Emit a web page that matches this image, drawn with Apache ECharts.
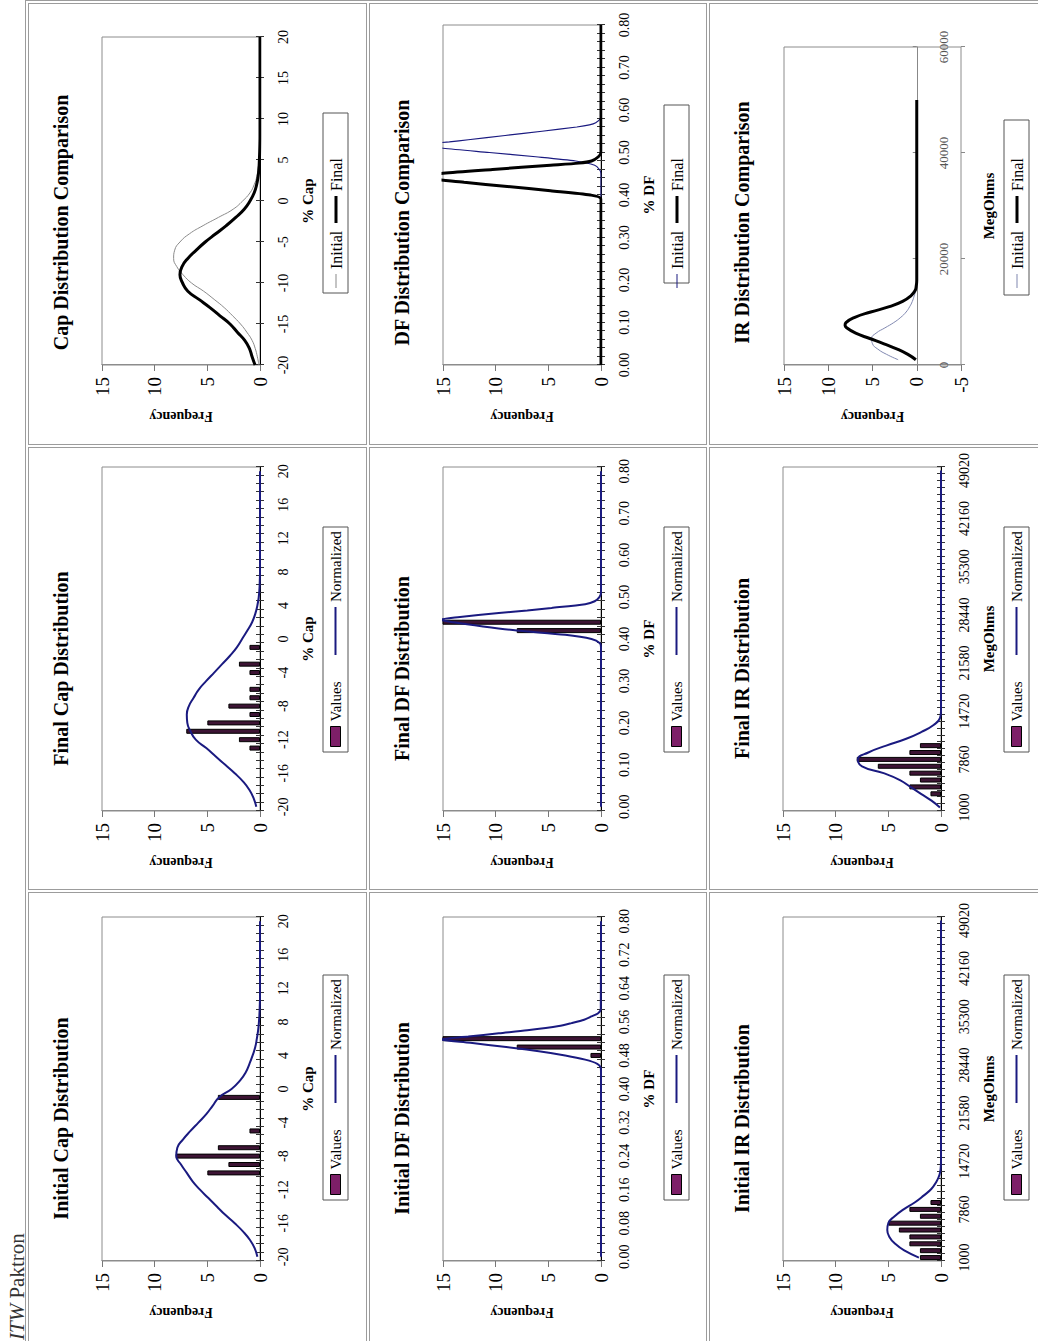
<!DOCTYPE html>
<html>
<head>
<meta charset="utf-8">
<script src="https://cdn.jsdelivr.net/npm/echarts@6/dist/echarts.min.js"></script>
<style>
html, body { margin: 0; padding: 0; background: #fff; overflow: hidden; }
/* the report page is landscape; it is drawn upright and turned a quarter left */
#page { position: absolute; left: 0; top: 1341px; width: 1341px; height: 1038px;
        transform-origin: 0 0; transform: rotate(-90deg); background: #fff; overflow: hidden; }
#hdr { position: absolute; left: 1px; top: 7px; font: 21px/21px 'Liberation Serif', serif; color: #333; white-space: nowrap; }
#tbl { position: absolute; left: -20px; top: 25px; width: 1361px; height: 1100px; box-sizing: border-box; border: 1px solid #9c9c9c; }
.cell { position: absolute; box-sizing: border-box; border: 1px solid #9c9c9c; }
.chart { position: absolute; width: 445px; height: 340px; }
</style>
</head>
<body>
<div id="page">
  <div id="hdr"><i>ITW</i> Paktron</div>
  <div id="tbl"></div>
  <div class="cell" style="left:-20px;top:28px;width:469px;height:339px"></div>
  <div class="cell" style="left:451px;top:28px;width:443px;height:339px"></div>
  <div class="cell" style="left:896px;top:28px;width:442px;height:339px"></div>
  <div class="cell" style="left:-20px;top:369px;width:469px;height:338px"></div>
  <div class="cell" style="left:451px;top:369px;width:443px;height:338px"></div>
  <div class="cell" style="left:896px;top:369px;width:442px;height:338px"></div>
  <div class="cell" style="left:-20px;top:709px;width:469px;height:400px"></div>
  <div class="cell" style="left:451px;top:709px;width:443px;height:400px"></div>
  <div class="cell" style="left:896px;top:709px;width:442px;height:400px"></div>

  <div class="chart" id="capInit" style="left:0;top:27px"></div>
  <div class="chart" id="capFinal" style="left:450px;top:27px"></div>
  <div class="chart" id="capCmp" style="left:896px;top:27px"></div>
  <div class="chart" id="dfInit" style="left:0;top:368px"></div>
  <div class="chart" id="dfFinal" style="left:450px;top:368px"></div>
  <div class="chart" id="dfCmp" style="left:896px;top:368px"></div>
  <div class="chart" id="irInit" style="left:0;top:708px"></div>
  <div class="chart" id="irFinal" style="left:450px;top:708px"></div>
  <div class="chart" id="irCmp" style="left:896px;top:708px"></div>
</div>
<script>
// ---- % Cap ----
const capCats = [-20,-19,-18,-17,-16,-15,-14,-13,-12,-11,-10,-9,-8,-7,-6,-5,-4,-3,-2,-1,0,1,2,3,4,5,6,7,8,9,10,11,12,13,14,15,16,17,18,19,20];
const capInitialBars = [0,0,0,0,0,0,0,0,0,0, 5,3,8,4,0,1,0,0,0,4, 0,0,0,0,0,0,0,0,0,0, 0,0,0,0,0,0,0,0,0,0, 0];
const capFinalBars   = [0,0,0,0,0,0,0,1,2,7, 5,1,3,1,1,0,1,2,0,1, 0,0,0,0,0,0,0,0,0,0, 0,0,0,0,0,0,0,0,0,0, 0];
const capInitialCurve = [0.25,0.5,0.95,1.6,2.4,3.3,4.1,4.9,5.7,6.4, 6.95,7.5,7.95,7.85,7.3,6.6,5.85,5.1,4.5,3.9, 2.7,1.9,1.35,1.0,0.7,0.45,0.3,0.18,0.1,0.05, 0.02,0,0,0,0,0,0,0,0,0, 0];
const capFinalCurve   = [0.35,0.6,1.0,1.6,2.4,3.3,4.2,5.1,6.1,6.6, 6.9,6.95,6.75,6.3,5.8,5.1,4.35,3.6,2.85,2.2, 1.7,1.2,0.75,0.45,0.25,0.12,0.05,0.02,0,0, 0,0,0,0,0,0,0,0,0,0, 0];
const capCmpInitial = [0.1,0.25,0.45,0.75,1.25,1.85,2.6,3.4,4.35,5.35, 6.5,7.3,7.9,8.2,8.1,7.6,6.7,5.4,3.95,2.55, 1.65,0.95,0.55,0.3,0.18,0.08,0.03,0.01,0,0, 0,0,0,0,0,0,0,0,0,0, 0];
const capCmpFinal   = [0.47,0.75,1.0,1.45,2.15,2.85,3.8,4.75,5.8,6.85, 7.35,7.6,7.4,6.85,6.05,5.2,4.2,3.2,2.3,1.5, 0.95,0.55,0.32,0.18,0.1,0.06,0.03,0.01,0,0, 0,0,0,0,0,0,0,0,0,0, 0];

// ---- % DF ----
const dfCats = [0.00,0.02,0.04,0.06,0.08,0.10,0.12,0.14,0.16,0.18,0.20,0.22,0.24,0.26,0.28,0.30,0.32,0.34,0.36,0.38,0.40,0.42,0.44,0.46,0.48,0.50,0.52,0.54,0.56,0.58,0.60,0.62,0.64,0.66,0.68,0.70,0.72,0.74,0.76,0.78,0.80];
const dfInitialBars = [0,0,0,0,0,0,0,0,0,0, 0,0,0,0,0,0,0,0,0,0, 0,0,0,0,1,8,16,0,0,0, 0,0,0,0,0,0,0,0,0,0, 0];
const dfFinalBars   = [0,0,0,0,0,0,0,0,0,0, 0,0,0,0,0,0,0,0,0,0, 0,8,16,0,0,0,0,0,0,0, 0,0,0,0,0,0,0,0,0,0, 0];
const dfInitialCurveX = [0, 0.44, 0.45, 0.46, 0.47, 0.48, 0.49, 0.50, 0.51, 0.518, 0.525, 0.533, 0.54, 0.55, 0.557, 0.565, 0.573, 0.58, 0.59, 0.80];
const dfInitialCurveY = [0, 0, 0.02, 0.35, 1.5, 3.4, 5.9, 9.0, 12.4, 15.3, 12.6, 9.7, 7.0, 4.0, 2.8, 1.6, 0.9, 0.3, 0.02, 0];
const dfFinalCurveX = [0, 0.38, 0.39, 0.40, 0.41, 0.42, 0.43, 0.44, 0.446, 0.452, 0.462, 0.468, 0.474, 0.483, 0.49, 0.50, 0.51, 0.80];
const dfFinalCurveY = [0, 0, 0.1, 0.9, 3.4, 8.0, 11.2, 14.0, 15.3, 13.6, 9.7, 7.0, 4.7, 1.5, 0.6, 0.15, 0, 0];
const dfCmpInitialX = [0, 0.45, 0.46, 0.47, 0.48, 0.49, 0.50, 0.51, 0.518, 0.525, 0.53, 0.54, 0.55, 0.56, 0.565, 0.57, 0.58, 0.59, 0.80];
const dfCmpInitialY = [0, 0, 0.15, 0.6, 2.4, 6.2, 10.6, 15.0, 17.3, 14.4, 12.6, 9.1, 5.6, 2.3, 1.1, 0.5, 0.05, 0, 0];
const dfCmpFinalX = [0, 0.39, 0.40, 0.41, 0.42, 0.43, 0.443, 0.451, 0.46, 0.47, 0.475, 0.48, 0.49, 0.50, 0.80];
const dfCmpFinalY = [0, 0, 1.0, 4.8, 8.9, 13.0, 17.5, 15.0, 10.3, 4.8, 2.1, 0.9, 0.25, 0, 0];

// ---- IR (MegOhms) ----
const irCats = [1000,1980,2960,3940,4920,5900,6880,7860,8840,9820,10800,11780,12760,13740,14720,15700,16680,17660,18640,19620,20600,21580,22560,23540,24520,25500,26480,27460,28440,29420,30400,31380,32360,33340,34320,35300,36280,37260,38240,39220,40200,41180,42160,43140,44120,45100,46080,47060,48040,49020];
const irInitialBars = [2,2,3,3,4,5,2,3,1,0, 0,0,0,0,0,0,0,0,0,0, 0,0,0,0,0,0,0,0,0,0, 0,0,0,0,0,0,0,0,0,0, 0,0,0,0,0,0,0,0,0,0];
const irFinalBars   = [0,0,1,3,2,3,6,8,3,2, 0,0,0,0,0,0,0,0,0,0, 0,0,0,0,0,0,0,0,0,0, 0,0,0,0,0,0,0,0,0,0, 0,0,0,0,0,0,0,0,0,0];
const irInitialCurve = [2.1,3.45,4.35,4.9,5.1,5.0,4.4,3.55,2.5,1.65, 0.9,0.45,0.15,0.03,0,0,0,0,0,0, 0,0,0,0,0,0,0,0,0,0, 0,0,0,0,0,0,0,0,0,0, 0,0,0,0,0,0,0,0,0,0];
const irFinalCurve   = [0.1,0.9,1.9,2.9,3.9,5.45,7.5,7.9,6.9,5.2, 3.3,1.85,0.7,0.1,0,0,0,0,0,0, 0,0,0,0,0,0,0,0,0,0, 0,0,0,0,0,0,0,0,0,0, 0,0,0,0,0,0,0,0,0,0];
const irCmpInitialX = [1000,2000,3000,4000,5000,6000,7000,8000,9000,10000,11000,12000,13000,14000,15000,16000,50000];
const irCmpInitialY = [2.1,3.4,4.4,5.0,5.1,4.6,3.6,2.6,1.8,1.2,0.8,0.5,0.3,0.12,0.03,0,0];
const irCmpFinalX = [1000,2000,3000,4000,5000,6000,7000,7500,8000,9000,10000,11000,12000,13000,14000,15000,16000,50000];
const irCmpFinalY = [0.1,1.0,2.2,3.7,5.3,6.9,7.9,8.1,8.0,7.0,5.2,3.1,1.6,0.7,0.2,0.05,0,0];

const FONT = 'Liberation Serif';
const BAR_FILL = '#3d1434';
const LEGEND_FILL = '#7d1f68';
const NAVY = '#1a1a80';

function txt(size, bold, color) {
    return { fontFamily: FONT, fontSize: size, fontWeight: bold ? 'bold' : 'normal', color: color || '#000' };
}
function zip(xs, ys) { return xs.map((x, i) => [x, ys[i]]); }

function yAxisOpt(min) {
    return {
        type: 'value', min: min, max: 15, interval: 5,
        name: 'Frequency', nameLocation: 'middle', nameGap: 44, nameTextStyle: txt(14, true),
        axisLine: { show: true, onZero: false, lineStyle: { color: '#8c8c8c' } },
        axisTick: { show: true, length: 6, lineStyle: { color: '#777' } },
        axisLabel: Object.assign(txt(19), { margin: 12 }),
        splitLine: { show: false }
    };
}

// a legend made of one item, so that every key can have its own size
function legendItem(left, name, w, h, color, border, size) {
    const item = { name: name, icon: 'rect', itemStyle: { color: color } };
    if (border) Object.assign(item.itemStyle, { borderColor: '#000', borderWidth: 1 });
    return { left: left, top: 301, padding: 0, itemWidth: w, itemHeight: h, textStyle: txt(size), data: [item] };
}
function legendBox(x, w) {
    return { type: 'rect', shape: { x: x, y: 296, width: w, height: 25 },
             style: { fill: '#fff', stroke: '#555', lineWidth: 1 }, z: -10 };
}

// histogram + normal curve
function distChart(id, o) {
    const n = o.cats.length;
    const half = (o.cats[1] - o.cats[0]) / 2;
    const chart = echarts.init(document.getElementById(id), null, { renderer: 'svg', width: 445, height: 340 });
    const tickStyle = { color: '#333' };
    chart.setOption({
        animation: false,
        title: { text: o.title, left: 'center', top: 24, padding: 0, textStyle: txt(20, true) },
        graphic: [legendBox(o.legLeft, 225)],
        legend: [
            legendItem(o.legLeft + 5, 'Values', 20, 10, LEGEND_FILL, true, 15),
            legendItem(o.legLeft + 97, 'Normalized', 48, 2, NAVY, false, 15)
        ],
        grid: { left: 80, top: 75, width: 344, height: 158, show: true, borderColor: '#8c8c8c', borderWidth: 1 },
        xAxis: [
            { type: 'category', position: 'bottom', data: o.cats, boundaryGap: true,
              axisLine: { show: true, onZero: false, lineStyle: { color: '#000' } },
              axisTick: { show: true, interval: 0, length: 4, lineStyle: tickStyle },
              axisLabel: Object.assign(txt(14), { show: true, interval: o.every - 1, margin: 16, formatter: o.fmt }),
              name: o.xName, nameLocation: 'middle', nameGap: 40, nameTextStyle: txt(15, true) },
            { type: 'category', position: 'bottom', data: o.cats, boundaryGap: true,
              axisLine: { show: false, onZero: false },
              axisTick: { show: true, interval: 0, length: 4, inside: true, lineStyle: tickStyle },
              axisLabel: { show: false } },
            { type: 'value', position: 'bottom', min: o.cats[0] - half, max: o.cats[n - 1] + half, show: false }
        ],
        yAxis: yAxisOpt(0),
        series: [
            { name: 'Values', type: 'bar', xAxisIndex: 0, barWidth: o.barWidth || 5,
              data: o.bars.map(v => (v ? v : null)),
              itemStyle: { color: BAR_FILL, borderColor: '#000', borderWidth: 1 } },
            { name: 'Normalized', type: 'line', xAxisIndex: 2, data: zip(o.curveX, o.curveY),
              smooth: o.smooth, symbol: 'none', lineStyle: { color: NAVY, width: 2 }, itemStyle: { color: NAVY } }
        ]
    });
}

// two normal curves on a value axis
function cmpChart(id, o) {
    const chart = echarts.init(document.getElementById(id), null, { renderer: 'svg', width: 445, height: 340 });
    const tickColor = o.tickColor || '#333';
    const minor = o.minor ? { show: true, splitNumber: 5, length: 4, lineStyle: { color: tickColor } } : { show: false };
    const bottom = o.yMin < 0;   // labels sit under the zero line, inside the plot
    chart.setOption({
        animation: false,
        title: { text: o.title, left: 'center', top: 24, padding: 0, textStyle: txt(20, true) },
        graphic: [legendBox(o.legLeft, o.legWidth)],
        legend: [
            legendItem(157, 'Initial', 14, o.initWidth < 1.5 ? 1 : 2, o.initColor, false, 16),
            legendItem(222, 'Final', 27, 3, '#000', false, 16)
        ],
        grid: { left: 80, top: o.top, width: o.width, height: o.height, show: true, borderColor: '#8c8c8c', borderWidth: 1 },
        xAxis: [
            // labels and name
            { type: 'value', position: 'bottom', min: o.min, max: o.max, interval: o.interval,
              axisLine: { show: !bottom, onZero: false, lineStyle: { color: o.axisColor || '#000' } },
              axisTick: { show: !bottom, length: 4, lineStyle: { color: tickColor } },
              minorTick: bottom ? { show: false } : minor,
              axisLabel: Object.assign(txt(o.labelSize || 14, false, o.labelColor),
                  { show: true, margin: o.labelMargin || 16, formatter: o.fmt || (v => String(v)) }),
              splitLine: { show: false },
              name: o.xName, nameLocation: 'middle', nameGap: o.nameGap, nameTextStyle: txt(15, true) },
            // crossing ticks: the inner half
            { type: 'value', position: 'bottom', min: o.min, max: o.max, interval: o.interval,
              axisLine: { show: true, onZero: bottom, lineStyle: { color: o.axisColor || '#000', opacity: bottom ? 1 : 0 } },
              axisTick: { show: true, inside: true, length: 4, lineStyle: { color: tickColor } }, minorTick: minor,
              axisLabel: { show: false }, splitLine: { show: false } },
            // crossing ticks: the outer half on the zero line
            { type: 'value', position: 'bottom', min: o.min, max: o.max, interval: o.interval,
              axisLine: { show: bottom, onZero: bottom, lineStyle: { opacity: 0 } },
              axisTick: { show: bottom, length: 4, lineStyle: { color: tickColor } },
              axisLabel: { show: false }, splitLine: { show: false } }
        ],
        yAxis: yAxisOpt(o.yMin),
        series: [
            { name: 'Initial', type: 'line', data: zip(o.initX, o.initY), smooth: o.smooth, symbol: 'none',
              lineStyle: { color: o.initColor, width: o.initWidth }, itemStyle: { color: o.initColor } },
            { name: 'Final', type: 'line', data: zip(o.finalX, o.finalY), smooth: o.smooth, symbol: 'none',
              lineStyle: { color: '#000', width: 3 }, itemStyle: { color: '#000' } }
        ]
    });
}

const fmt2 = v => Number(v).toFixed(2);

distChart('capInit', { title: 'Initial Cap Distribution', cats: capCats, every: 4, xName: '% Cap',
    bars: capInitialBars, curveX: capCats, curveY: capInitialCurve, smooth: true, legLeft: 141 });
distChart('capFinal', { title: 'Final Cap Distribution', cats: capCats, every: 4, xName: '% Cap',
    bars: capFinalBars, curveX: capCats, curveY: capFinalCurve, smooth: true, legLeft: 139 });
cmpChart('capCmp', { title: 'Cap Distribution Comparison', top: 75, height: 158, width: 328, yMin: 0,
    min: -20, max: 20, interval: 5, xName: '% Cap', nameGap: 40,
    initX: capCats, initY: capCmpInitial, finalX: capCats, finalY: capCmpFinal,
    initColor: '#8a8a8a', initWidth: 1, smooth: true, legLeft: 152, legWidth: 180 });

distChart('dfInit', { title: 'Initial DF Distribution', cats: dfCats, every: 4, xName: '% DF', fmt: fmt2,
    bars: dfInitialBars, curveX: dfInitialCurveX, curveY: dfInitialCurveY, smooth: 0.25, legLeft: 141 });
distChart('dfFinal', { title: 'Final DF Distribution', cats: dfCats, every: 5, xName: '% DF', fmt: fmt2,
    bars: dfFinalBars, curveX: dfFinalCurveX, curveY: dfFinalCurveY, smooth: 0.25, legLeft: 139 });
cmpChart('dfCmp', { title: 'DF Distribution Comparison', top: 75, height: 158, width: 340, yMin: 0,
    min: 0, max: 0.8, interval: 0.1, minor: true, fmt: fmt2, xName: '% DF', nameGap: 40,
    initX: dfCmpInitialX, initY: dfCmpInitialY, finalX: dfCmpFinalX, finalY: dfCmpFinalY,
    initColor: NAVY, initWidth: 1.2, smooth: 0.25, legLeft: 162, legWidth: 178 });

distChart('irInit', { title: 'Initial IR Distribution', cats: irCats, every: 7, xName: 'MegOhms',
    bars: irInitialBars, curveX: irCats, curveY: irInitialCurve, smooth: true, legLeft: 141 });
distChart('irFinal', { title: 'Final IR Distribution', cats: irCats, every: 7, xName: 'MegOhms',
    bars: irFinalBars, curveX: irCats, curveY: irFinalCurve, smooth: true, legLeft: 139 });
cmpChart('irCmp', { title: 'IR Distribution Comparison', top: 76, height: 177, width: 318, yMin: -5,
    min: 0, max: 60000, interval: 20000, xName: 'MegOhms', nameGap: 20,
    axisColor: '#888', tickColor: '#888', labelSize: 13, labelColor: '#555', labelMargin: -24,
    initX: irCmpInitialX, initY: irCmpInitialY, finalX: irCmpFinalX, finalY: irCmpFinalY,
    initColor: '#8088b0', initWidth: 1, smooth: true, legLeft: 150, legWidth: 175 });
</script>
</body>
</html>
